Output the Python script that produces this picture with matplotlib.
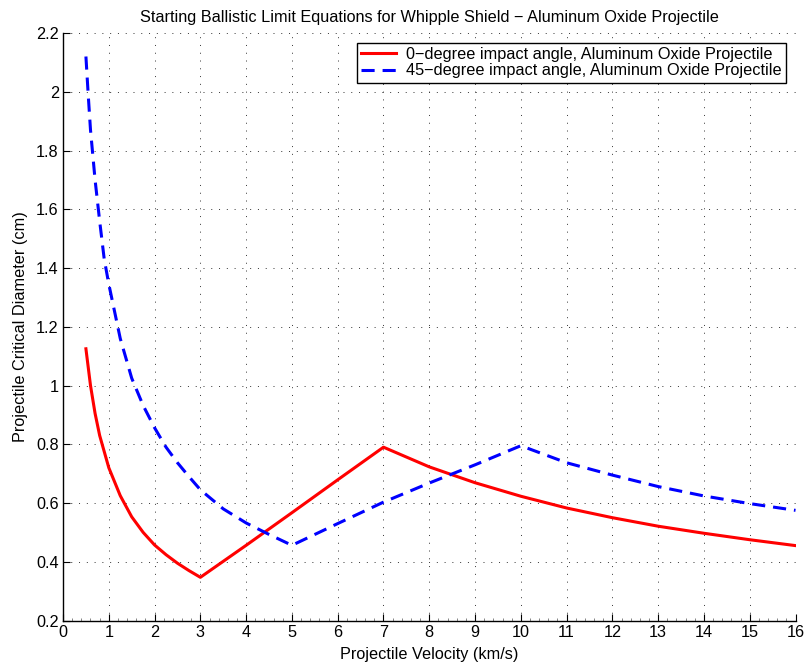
import numpy as np
import matplotlib
matplotlib.use('Agg')
from matplotlib import pyplot as plt
from matplotlib.ticker import MultipleLocator

# critical diameter (cm) vs velocity (km/s), 0 degree impact
v_0deg = [0.5, 0.6, 0.7, 0.8, 0.9, 1.0, 1.25, 1.5, 1.75, 2.0, 2.25, 2.5, 2.75, 3.0,
          4.0, 5.0, 6.0, 7.0, 8.0, 9.0, 10.0, 11.0, 12.0, 13.0, 14.0, 15.0, 16.0]
d_0deg = [1.125, 1.0, 0.905, 0.83, 0.775, 0.72, 0.625, 0.553, 0.50, 0.457, 0.424, 0.395, 0.37, 0.347,
          0.456, 0.567, 0.679, 0.79, 0.723, 0.669, 0.623, 0.583, 0.55, 0.521, 0.497, 0.475, 0.455]

# 45 degree impact
v_45deg = [0.5, 0.55, 0.6, 0.7, 0.8, 0.9, 1.0, 1.25, 1.5, 1.75, 2.0, 2.25, 2.5, 2.75, 3.0,
           3.5, 4.0, 4.5, 5.0, 6.0, 7.0, 8.0, 9.0, 10.0, 11.0, 12.0, 13.0, 14.0, 15.0, 16.0]
d_45deg = [2.12, 1.99, 1.87, 1.70, 1.56, 1.43, 1.345, 1.16, 1.025, 0.932, 0.856, 0.79, 0.737, 0.69, 0.645,
           0.58, 0.532, 0.493, 0.456, 0.53, 0.603, 0.668, 0.73, 0.795, 0.737, 0.695, 0.656, 0.624, 0.598, 0.575]

labels = ['0\u2212degree impact angle, Aluminum Oxide Projectile',
          '45\u2212degree impact angle, Aluminum Oxide Projectile']

plt.rcParams['font.family'] = ['Liberation Sans', 'DejaVu Sans']
plt.rcParams['font.size'] = 11.7

fig = plt.figure(figsize=(8.06, 6.64), dpi=100)
ax = fig.add_axes([0.0782, 0.0655, 0.9088, 0.8848])

ax.plot(v_0deg, d_0deg, color='#ff0000', lw=2.2, label=labels[0])
ax.plot(v_45deg, d_45deg, color='#0000ff', lw=2.2, ls=(0, (4.3, 2.6)), label=labels[1])

ax.set_xlim(0, 16)
ax.set_ylim(0.2, 2.2)
ax.xaxis.set_major_locator(MultipleLocator(1))
ax.yaxis.set_major_locator(MultipleLocator(0.2))
ax.set_yticklabels(['%g' % t for t in ax.get_yticks()])
ax.xaxis.set_minor_locator(MultipleLocator(0.2))

ax.grid(True, which='major', color='#333333', lw=0.7, ls=(0, (1, 7)))
ax.tick_params(which='major', direction='in', length=5, width=0.8, colors='black', labelsize=11.7, pad=3)
ax.tick_params(which='minor', direction='in', length=2, width=0.5, colors='#555555')
ax.tick_params(axis='y', which='minor', left=False)
for side in ['top', 'right']:
    ax.spines[side].set_visible(False)
for side in ['left', 'bottom']:
    ax.spines[side].set_linewidth(1.0)

ax.set_xlabel('Projectile Velocity (km/s)', labelpad=5)
ax.set_ylabel('Projectile Critical Diameter (cm)', labelpad=6)
ax.set_title('Starting Ballistic Limit Equations for Whipple Shield \u2212 Aluminum Oxide Projectile',
             fontsize=11.7, pad=8)

leg = ax.legend(loc='upper right', fancybox=False, framealpha=1, edgecolor='black',
                borderaxespad=0.6, handlelength=2.1, handletextpad=0.65,
                labelspacing=0.1, borderpad=0.25)
leg.get_frame().set_linewidth(1.0)

fig.savefig('out.png', dpi=100)
